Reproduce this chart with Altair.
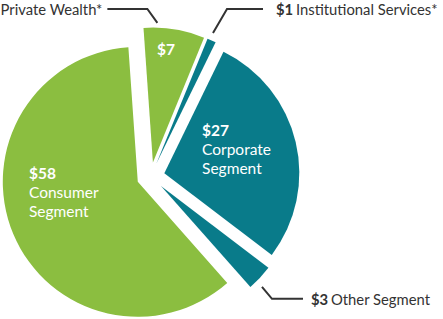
import math
import altair as alt
import pandas as pd

# ---------------- data ----------------
segments = ["Private Wealth*", "Institutional Services*", "Corporate Segment",
            "Other Segment", "Consumer Segment"]
values = [7, 1, 27, 3, 58]
value_text = ["$7", "$1", "$27", "$3", "$58"]
inside_names = ["", "", "Corporate\nSegment", "", "Consumer\nSegment"]
outside_names = ["Private Wealth*", "Institutional Services*", "", "Other Segment", ""]

# ---------------- style / layout ----------------
W, H = 443, 319
CX, CY = 150.7, 176.4          # pie centre in the view
R = 135                         # outer radius
EXPLODE = 14                    # explode distance of every slice
START_DEG = -4                  # where the first slice starts
GREEN, TEAL = "#8BBE40", "#097B8A"
slice_colors = [GREEN, TEAL, TEAL, TEAL, GREEN]
FONT = "Lato"
FS = 15.5
FS_OUT = 14.8
INK = "#333333"

# inside labels: (angle deg, distance) from the slice's own centre
inside_place = {"Private Wealth*": (2.1, 112.7),
                "Corporate Segment": (41.8, 56.6),
                "Consumer Segment": (274.2, 109.1)}
# leader lines: angle nudge from slice mid, distance past rim, elbow, arm, text gap
leader_place = {
    "Private Wealth*": dict(nudge=-7.3, r_out=4.7, ex=-10, ey=14, arm=-40, gap=5),
    "Institutional Services*": dict(nudge=-0.7, r_out=7.3, ex=14, ey=24, arm=36, gap=13),
    "Other Segment": dict(nudge=2.1, r_out=7.8, ex=10, ey=-12, arm=31, gap=8),
}

# ---------------- geometry from the values ----------------
total = sum(values)
rows, cum = [], 0
for seg, v, vt, iname, oname in zip(segments, values, value_text, inside_names, outside_names):
    mid = START_DEG + 360.0 * (cum + v / 2) / total
    m = math.radians(mid)
    rows.append(dict(segment=seg, value=v, start=cum, end=cum + v, mid=mid,
                     x=EXPLODE * math.sin(m), y=EXPLODE * math.cos(m),
                     vtext=vt, iname=iname, oname=oname))
    cum += v
arc_df = pd.DataFrame(rows)

inside_rows, leader_rows, out_rows = [], [], []
for r in rows:
    if r["segment"] in inside_place:
        ang, dist = inside_place[r["segment"]]
        a = math.radians(ang)
        inside_rows.append(dict(segment=r["segment"], x=r["x"] + dist * math.sin(a),
                                y=r["y"] + dist * math.cos(a), vtext=r["vtext"], iname=r["iname"]))
    if r["segment"] in leader_place:
        p = leader_place[r["segment"]]
        a = math.radians(r["mid"] + p["nudge"])
        px = r["x"] + (R + p["r_out"]) * math.sin(a)
        py = r["y"] + (R + p["r_out"]) * math.cos(a)
        ex, ey = px + p["ex"], py + p["ey"]
        hx = ex + p["arm"]
        for i, (xx, yy) in enumerate([(px, py), (ex, ey), (hx, ey)]):
            leader_rows.append(dict(segment=r["segment"], step=i, x=xx, y=yy))
        side = "right" if p["arm"] > 0 else "left"
        has_val = r["oname"] != "" and r["segment"] != "Private Wealth*"
        out_rows.append(dict(segment=r["segment"], side=side,
                             x=hx + (p["gap"] if side == "right" else -p["gap"]), y=ey,
                             vtext=r["vtext"] if has_val else "", oname=r["oname"]))

inside_df = pd.DataFrame(inside_rows)
leader_df = pd.DataFrame(leader_rows)
out_df = pd.DataFrame(out_rows)

xs = alt.Scale(domain=[-CX, W - CX], nice=False, zero=False)
ys = alt.Scale(domain=[CY - H, CY], nice=False, zero=False)
X = alt.X("x:Q", scale=xs, axis=None)
Y = alt.Y("y:Q", scale=ys, axis=None)

arcs = alt.Chart(arc_df).mark_arc(radius=R).encode(
    x=X, y=Y,
    theta=alt.Theta("start:Q", scale=alt.Scale(domain=[0, total],
                    range=[math.radians(START_DEG), math.radians(START_DEG) + 2 * math.pi])),
    theta2="end:Q",
    color=alt.Color("segment:N", scale=alt.Scale(domain=segments, range=slice_colors), legend=None),
)

leaders = alt.Chart(leader_df).mark_line(color=INK, strokeWidth=2).encode(
    x=X, y=Y, detail="segment:N", order="step:Q")

in_val = alt.Chart(inside_df).mark_text(
    font=FONT, fontSize=FS, fontWeight="bold", color="white", align="left", baseline="middle"
).encode(x=X, y=Y, text="vtext:N")

in_name = alt.Chart(inside_df).mark_text(
    font=FONT, fontSize=FS, color="white", align="left", baseline="alphabetic",
    dy=24, lineBreak="\n", lineHeight=19
).encode(x=X, y=Y, text="iname:N")

right_df = out_df[out_df["side"] == "right"]
left_df = out_df[out_df["side"] == "left"]

out_val = alt.Chart(right_df).mark_text(
    font=FONT, fontSize=FS_OUT, fontWeight="bold", color=INK, align="left", baseline="middle", dy=2
).encode(x=X, y=Y, text="vtext:N")

out_name_r = alt.Chart(right_df).mark_text(
    font=FONT, fontSize=FS_OUT, color=INK, align="left", baseline="middle", dx=20, dy=2
).encode(x=X, y=Y, text="oname:N")

out_name_l = alt.Chart(left_df).mark_text(
    font=FONT, fontSize=FS_OUT, color=INK, align="right", baseline="middle", dy=2
).encode(x=X, y=Y, text="oname:N")

chart = alt.layer(arcs, leaders, in_val, in_name, out_val, out_name_r, out_name_l).properties(
    width=W, height=H, padding=0, background="white",
    autosize=alt.AutoSizeParams(type="none"),
).configure_view(stroke=None)

chart.save("out.html", embed_options={"renderer": "svg", "actions": False})
